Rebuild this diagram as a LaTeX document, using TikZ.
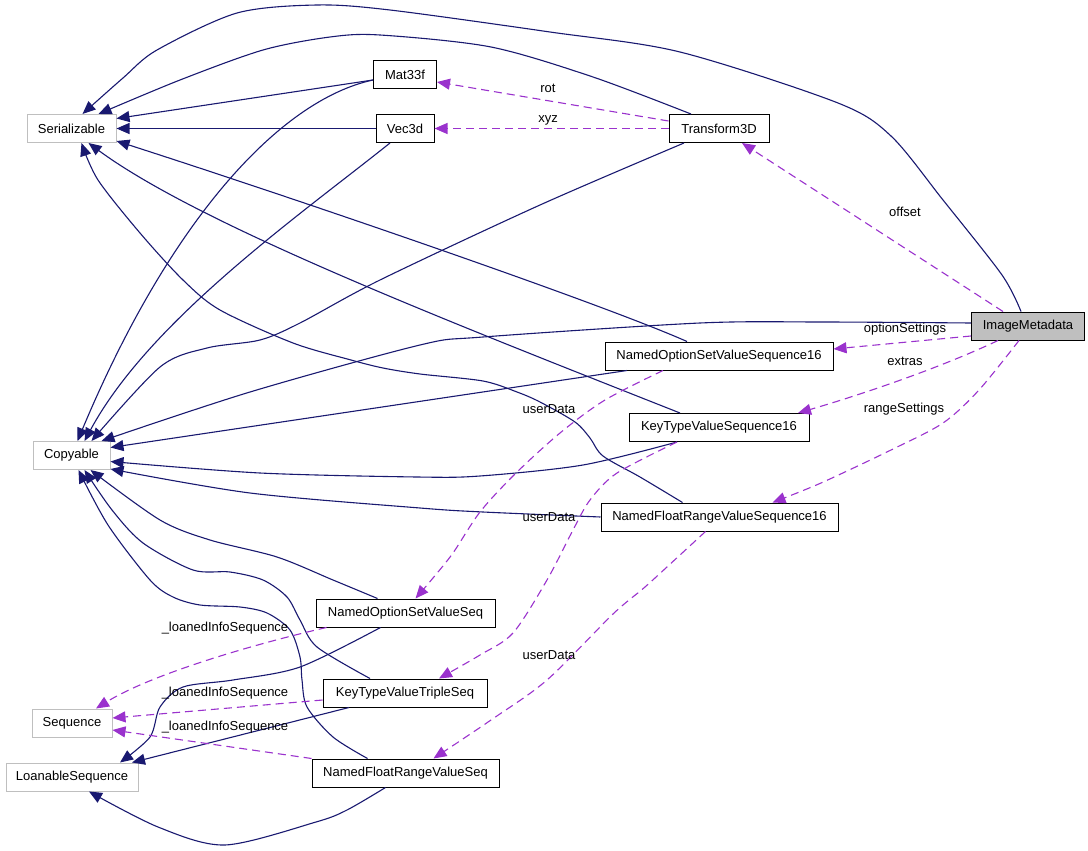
\documentclass[tikz,border=0pt]{standalone}
\usepackage{fontspec}
\setmainfont{Liberation Sans}
\usetikzlibrary{arrows.meta}
\definecolor{eblue}{HTML}{191970}
\definecolor{epurp}{HTML}{9A32CD}
\definecolor{grayb}{HTML}{BFBFBF}
\newcommand{\nfont}{\fontsize{13}{15}\selectfont}
\tikzset{
  box/.style={draw=black, line width=1pt, fill=white, minimum height=28pt, inner sep=0pt, font=\nfont},
  gbox/.style={box, draw=grayb},
  inh/.style={draw=eblue, line width=1.1pt, -{Triangle[length=13pt,width=11pt]}},
  use/.style={draw=epurp, line width=1.1pt, dash pattern=on 8pt off 5pt, -{Triangle[length=13pt,width=11pt]}},
  lbl/.style={font=\nfont, inner sep=0pt, text=black}
}
\begin{document}
\begin{tikzpicture}[x=1pt,y=-1pt]
\useasboundingbox (0,0) rectangle (1088,851);
% nodes
\node[gbox, minimum width=89pt] (ser) at (71.5,128.5) {Serializable};
\node[box, minimum width=63pt] (mat) at (405,75) {Mat33f};
\node[box, minimum width=58pt] (vec) at (405,128.5) {Vec3d};
\node[box, minimum width=100pt] (tr) at (719,128.5) {Transform3D};
\node[box, fill=grayb, minimum width=113pt] (img) at (1028,326) {ImageMetadata};
\node[box, minimum width=228pt] (nos16) at (719,356) {NamedOptionSetValueSequence16};
\node[box, minimum width=180pt] (ktv16) at (719,427.5) {KeyTypeValueSequence16};
\node[box, minimum width=237pt] (nfr16) at (719.5,517) {NamedFloatRangeValueSequence16};
\node[gbox, minimum width=77pt] (cop) at (71.5,455.5) {Copyable};
\node[box, minimum width=179pt] (nosq) at (405.5,613) {NamedOptionSetValueSeq};
\node[box, minimum width=164pt] (ktvt) at (405,693) {KeyTypeValueTripleSeq};
\node[box, minimum width=187pt] (nfrq) at (405.5,773) {NamedFloatRangeValueSeq};
\node[gbox, minimum width=80pt] (seq) at (72,723) {Sequence};
\node[gbox, minimum width=132pt] (loan) at (72,777) {LoanableSequence};

% inheritance edges to Serializable
\draw[inh] plot[smooth] coordinates {([xshift=-7pt]img.north) (1002,275) (943,200) (891,136) (838,103) (680,52) (550,32) (390,10) (317,5) (237,13) (157,50) (123,78) ([xshift=11pt]ser.north)};
\draw[inh] plot[smooth] coordinates {([xshift=-28pt]tr.north) (593,77) (491,47) (380,35) (330,37) (263,50) (180,80) ([xshift=27pt]ser.north)};
\draw[inh] ([yshift=-5pt]mat.west) -- ([yshift=10pt]ser.east);
\draw[inh] (vec.west) -- (ser.east);
\draw[inh] ([xshift=-32pt]nos16.north) .. controls (600,303) and (300,200) .. ([yshift=2pt]ser.south east);
\draw[inh] ([xshift=-39pt]ktv16.north) .. controls (450,322) and (200,225) .. ([xshift=17pt]ser.south);
\draw[inh] plot[smooth] coordinates {([xshift=-37pt]nfr16.north) (640,477) (603,456) (590,438) (575,422) (540,402) (517,392) (483,381) (420,374) (383,368) (351,360) (293,343) (220,310) (183,280) (140,233) (98,180) ([xshift=10pt]ser.south)};

% inheritance edges to Copyable
\draw[inh] plot[smooth] coordinates {([yshift=3pt]img.west) (821,322) (700,323) (483,337) (420,345) (250,392) ([xshift=30pt]cop.north)};
\draw[inh] ([xshift=-92pt]nos16.south) -- ([yshift=8pt]cop.east);
\draw[inh] plot[smooth] coordinates {([xshift=-42pt]ktv16.south) (583,465) (480,476) (417,477) (260,473) ([yshift=-6pt]cop.east)};
\draw[inh] plot[smooth] coordinates {(nfr16.west) (483,512) (420,508) (250,493) ([yshift=1pt]cop.south east)};
\draw[inh] ([yshift=-5pt]mat.west) .. controls (280,100) and (170,220) .. ([xshift=6pt]cop.north);
\draw[inh] ([xshift=-15pt]vec.south) .. controls (300,215) and (150,320) .. ([xshift=13pt]cop.north);
\draw[inh] plot[smooth] coordinates {([xshift=-35pt]tr.south) (540,205) (380,280) (300,323) (260,340) (207,348) (160,367) ([xshift=20pt]cop.north)};
\draw[inh] plot[smooth] coordinates {([xshift=-28pt]nosq.north) (333,580) (277,557) (210,540) (160,520) ([xshift=19pt]cop.south)};
\draw[inh] plot[smooth] coordinates {([xshift=-35pt]ktvt.north) (317,647) (300,620) (287,597) (263,580) (230,572) (193,570) (143,543) (112,510) ([xshift=13pt]cop.south)};
\draw[inh] plot[smooth] coordinates {([xshift=-38pt]nfrq.north) (333,737) (307,707) (302,680) (300,657) (290,630) (267,613) (240,607) (200,605) (173,597) (150,580) (108,525) ([xshift=7pt]cop.south)};

% inheritance edges to LoanableSequence
\draw[inh] plot[smooth] coordinates {([xshift=-25pt]nosq.south) (300,667) (233,680) (183,687) (160,707) (150,737) ([xshift=48pt]loan.north)};
\draw[inh] ([xshift=-56pt]ktvt.south) -- ([xshift=60pt]loan.north);
\draw[inh] plot[smooth] coordinates {([xshift=-20pt]nfrq.south) (347,810) (316,822) (225,845) (158,827) ([xshift=17pt]loan.south)};

% usage edges
\draw[use] ([yshift=7.5pt]tr.west) -- ([yshift=-7pt]mat.east);
\node[lbl] (lrot) at (548,88) {rot};
\draw[use] (tr.west) -- (vec.east);
\node[lbl] (lxyz) at (548,120) {xyz};
\draw[use] ([xshift=-25pt]img.north) -- ([xshift=23pt]tr.south);
\node[lbl] (loff) at (905,212) {offset};
\draw[use] ([yshift=-10pt]img.west) -- ([yshift=7pt]nos16.east);
\node[lbl] (lopt) at (905,329) {optionSettings};
\draw[use] ([xshift=-30pt]img.south) .. controls (940,368) and (860,395) .. ([xshift=79pt]ktv16.north);
\node[lbl] (lext) at (905,361) {extras};
\draw[use] plot[smooth] coordinates {([xshift=-9pt]img.south) (979,390) (943,423) (891,450) (821,483) ([xshift=53pt]nfr16.north)};
\node[lbl] (lrng) at (904,409) {rangeSettings};
\draw[use] plot[smooth] coordinates {([xshift=-56pt]nos16.south) (605,400) (560,433) (515,474) (480,512) (453,553) (433,578) ([xshift=10pt]nosq.north)};
\node[lbl] (lud1) at (549,409) {userData};
\draw[use] plot[smooth] coordinates {([xshift=-42pt]ktv16.south) (617,473) (590,500) (573,530) (547,580) (513,633) (480,655) ([xshift=34pt]ktvt.north)};
\node[lbl] (lud2) at (549,517) {userData};
\draw[use] plot[smooth] coordinates {([xshift=-14pt]nfr16.south) (680,555) (645,587) (613,614) (547,680) (491,720) ([xshift=28pt]nfrq.north)};
\node[lbl] (lud3) at (549,655) {userData};
\draw[use] ([xshift=-79pt]nosq.south) .. controls (250,645) and (150,675) .. ([xshift=24pt]seq.north);
\node[lbl] (lli1) at (225,628) {\_loanedInfoSequence};
\draw[use] ([yshift=-7pt]ktvt.west) -- ([yshift=5pt]seq.east);
\node[lbl] (lli2) at (225,693) {\_loanedInfoSequence};
\draw[use] (nfrq.north west) -- ([yshift=-7pt]seq.east);
\node[lbl] (lli3) at (225,727) {\_loanedInfoSequence};
\end{tikzpicture}
\end{document}
